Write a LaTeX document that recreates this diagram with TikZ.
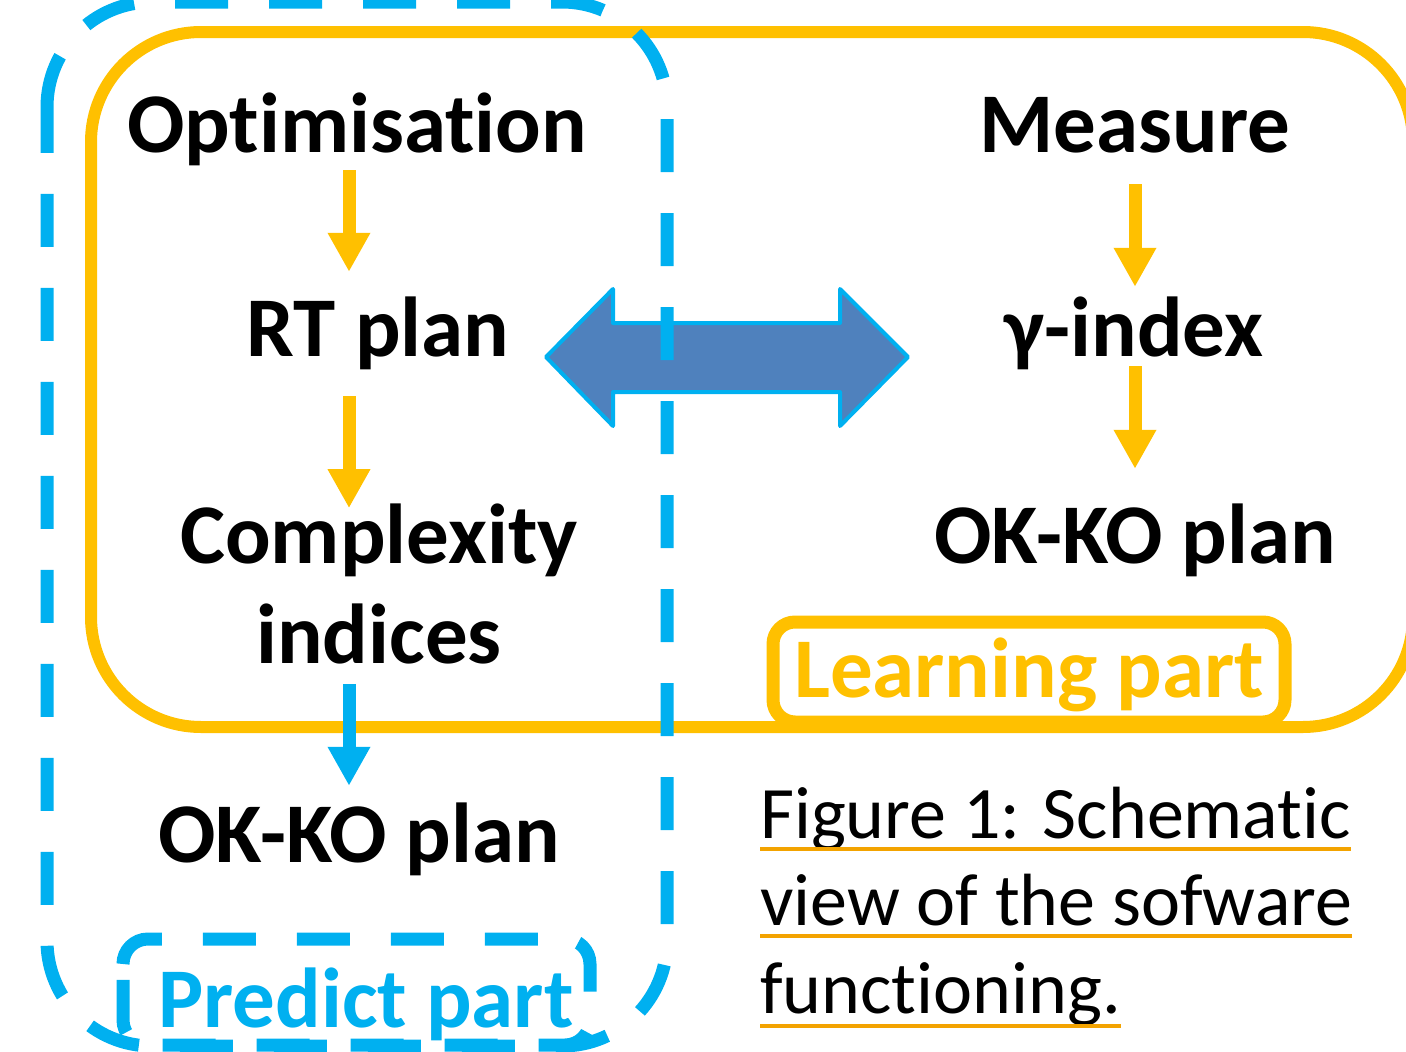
\documentclass[tikz,border=0pt]{standalone}
\usepackage{fontspec}
\setmainfont{Carlito}[Ligatures={NoCommon,NoContextual,NoRare}, RawFeature=-liga, RawFeature=-clig, RawFeature=-dlig]
\usetikzlibrary{arrows.meta}
\definecolor{ppOrange}{HTML}{FFC000}
\definecolor{ppBlue}{HTML}{00B0F0}
\definecolor{ppArrow}{HTML}{4F81BD}
\definecolor{ppUnder}{RGB}{243,163,0}

\begin{document}
\begin{tikzpicture}[x=1pt,y=-1pt,
  lab/.style={inner sep=0pt, anchor=base, font=\fontsize{85}{100}\selectfont\bfseries,
              text height=60pt, text depth=18pt},
  captext/.style={inner sep=0pt, anchor=base west, font=\fontsize{74}{88}\selectfont},
  flowarrow/.style={line width=13pt, -{Triangle[width=40pt,length=39pt]}},
  solidframe/.style={line width=12pt, ppOrange},
  dashframe/.style={line width=13pt, ppBlue, dash pattern=on 53pt off 41pt},
  underl/.style={line width=4pt, ppUnder},
]
\useasboundingbox (0,0) rectangle (1406,1052);

% learning part frame (runs off the right edge) and its label box
\draw[solidframe, rounded corners=110pt] (91,32) rectangle (1413,727);
\draw[solidframe, line width=13pt, rounded corners=22pt] (773,622) rectangle (1285,722);

% exchange between the two parts
\draw[ppBlue, line width=4pt, line join=round, fill=ppArrow]
  (546,357) -- (613,289) -- (613,323) -- (840,323) -- (840,289) -- (908,357)
  -- (840,426) -- (840,392) -- (613,392) -- (613,426) -- cycle;

% predict part frame and its label box
\draw[dashframe, rounded corners=105pt]
  (47,107) -- (47,2) -- (667,2) -- (667,1046) -- (47,1046) -- (47,107);
\draw[dashframe, rounded corners=25pt]
  (123,964) -- (123,939) -- (590,939) -- (590,1045) -- (123,1045) -- (123,964);

% columns of the two flows
\coordinate (colL) at (349,0);
\coordinate (colR) at (1135,0);

% left flow
\node[lab] (opt) at (357,152) {Optimisation};
\node[lab] (rt) at (378,356) {RT plan};
\node[inner sep=0pt, align=center, anchor=base, font=\fontsize{85}{100}\selectfont\bfseries]
  (cx) at (379,663) {Complexity\\indices};
\node[lab] (okL) at (359,862) {OK-KO plan};

% right flow
\node[lab] (meas) at (1135,152) {Measure};
\node[lab] (gam) at (1134,356) {γ-index};
\node[lab] (okR) at (1135,563) {OK-KO plan};

% part labels
\node[lab, text=ppOrange] (learn) at (1029,697) {Learning part};
\node[lab, text=ppBlue] (pred) at (366,1027) {Predict part};

% flow arrows
\draw[flowarrow, ppOrange, shorten >=24pt] (opt.south -| colL) -- (rt.north -| colL);
\draw[flowarrow, ppOrange, shorten <=22pt, shorten >=-5pt] (rt.south -| colL) -- (cx.north -| colL);
\draw[flowarrow, ppBlue, shorten <=20pt, shorten >=16pt] (cx.south -| colL) -- (okL.north -| colL);
\draw[flowarrow, ppOrange, shorten <=14pt, shorten >=9pt] (meas.south -| colR) -- (gam.north -| colR);
\draw[flowarrow, ppOrange, shorten <=-8pt, shorten >=34pt] (gam.south -| colR) -- (okR.north -| colR);

% caption
\node[captext] (cap1) at (760,838) {Figure 1: Schematic};
\node[captext] (cap2) at (760,925) {view of the sofware};
\node[captext] (cap3) at (760,1013) {functioning.};
\draw[underl] ([yshift=-11pt]cap1.base west) -- ([yshift=-11pt]cap1.base east);
\draw[underl] ([yshift=-11pt]cap2.base west) -- ([yshift=-11pt]cap2.base east);
\draw[underl] ([yshift=-13pt]cap3.base west) -- ([yshift=-13pt]cap3.base east);
\end{tikzpicture}
\end{document}
